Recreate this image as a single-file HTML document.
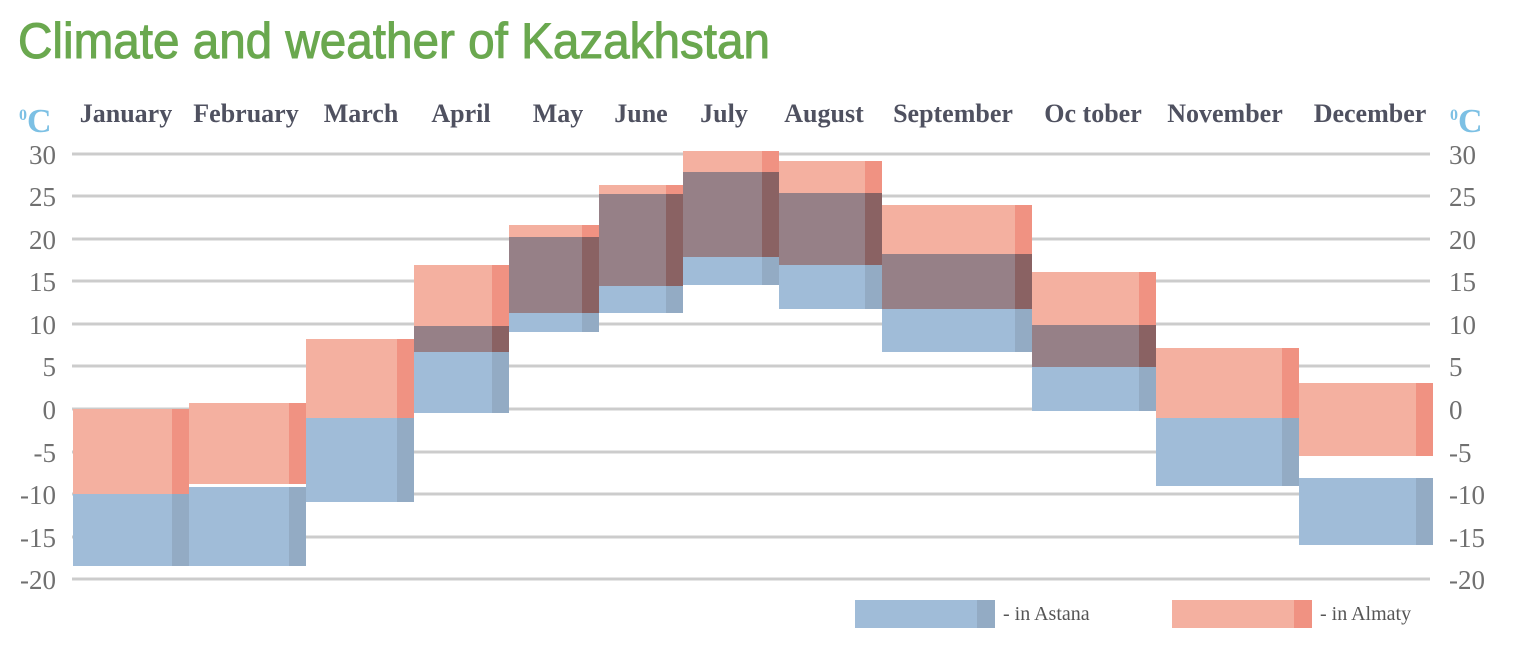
<!DOCTYPE html>
<html><head><meta charset="utf-8"><style>
html,body{margin:0;padding:0;background:#fff;}
svg{display:block}
.m{font-family:"Liberation Serif",serif;font-weight:bold;font-size:26px;fill:#4f5160;text-anchor:middle}
.t{font-family:"Liberation Serif",serif;font-size:27px;fill:#707070}
.g{stroke:#cccccc;stroke-width:3}
.b{fill:#a0bcd8}.bs{fill:#93abc4}.a{fill:#f4b0a0}.as{fill:#f09282}.o{fill:#968087}.os{fill:#8a6263}
</style></head><body>
<svg width="1528" height="648" viewBox="0 0 1528 648">
<text x="18" y="58" font-family="Liberation Sans Narrow, Liberation Sans, sans-serif" font-size="50" fill="#6aa84f" stroke="#6aa84f" stroke-width="1" textLength="752" lengthAdjust="spacingAndGlyphs">Climate and weather of Kazakhstan</text>
<g>
<line class="g" x1="72" x2="1430" y1="154" y2="154"/>
<line class="g" x1="72" x2="1430" y1="196" y2="196"/>
<line class="g" x1="72" x2="1430" y1="239" y2="239"/>
<line class="g" x1="72" x2="1430" y1="281" y2="281"/>
<line class="g" x1="72" x2="1430" y1="324" y2="324"/>
<line class="g" x1="72" x2="1430" y1="366" y2="366"/>
<line class="g" x1="72" x2="1430" y1="409" y2="409"/>
<line class="g" x1="72" x2="1430" y1="452" y2="452"/>
<line class="g" x1="72" x2="1430" y1="494" y2="494"/>
<line class="g" x1="72" x2="1430" y1="537" y2="537"/>
<line class="g" x1="72" x2="1430" y1="579" y2="579"/>
</g>
<g class="t" text-anchor="end">
<text x="56" y="164">30</text><text x="56" y="206">25</text><text x="56" y="249">20</text><text x="56" y="291">15</text><text x="56" y="334">10</text><text x="56" y="376">5</text><text x="56" y="419">0</text><text x="56" y="462">-5</text><text x="56" y="504">-10</text><text x="56" y="547">-15</text><text x="56" y="589">-20</text>
</g>
<g class="t">
<text x="1449" y="164">30</text><text x="1449" y="206">25</text><text x="1449" y="249">20</text><text x="1449" y="291">15</text><text x="1449" y="334">10</text><text x="1449" y="376">5</text><text x="1449" y="419">0</text><text x="1449" y="462">-5</text><text x="1449" y="504">-10</text><text x="1449" y="547">-15</text><text x="1449" y="589">-20</text>
</g>
<text x="19" y="132" font-family="Liberation Serif,serif" font-weight="bold" fill="#7cc0e4"><tspan font-size="16" dy="-12">0</tspan><tspan font-size="34" dy="12">C</tspan></text>
<text x="1450" y="132" font-family="Liberation Serif,serif" font-weight="bold" fill="#7cc0e4"><tspan font-size="16" dy="-12">0</tspan><tspan font-size="34" dy="12">C</tspan></text>
<g class="m">
<text x="126" y="122">January</text><text x="246" y="122">February</text><text x="361" y="122">March</text><text x="461" y="122">April</text><text x="558" y="122">May</text><text x="641" y="122">June</text><text x="724" y="122">July</text><text x="824" y="122">August</text><text x="953" y="122">September</text><text x="1093" y="122">Oc tober</text><text x="1225" y="122">November</text><text x="1370" y="122">December</text>
</g>
<g>
<rect class="b" x="73" y="494" width="99" height="72"/><rect class="bs" x="172" y="494" width="17" height="72"/>
<rect class="a" x="73" y="409" width="99" height="85"/><rect class="as" x="172" y="409" width="17" height="85"/>

<rect class="b" x="189" y="487" width="100" height="79"/><rect class="bs" x="289" y="487" width="17" height="79"/>
<rect class="a" x="189" y="403" width="100" height="81"/><rect class="as" x="289" y="403" width="17" height="81"/>

<rect class="b" x="306" y="418" width="91" height="84"/><rect class="bs" x="397" y="418" width="17" height="84"/>
<rect class="a" x="306" y="339" width="91" height="79"/><rect class="as" x="397" y="339" width="17" height="79"/>

<rect class="b" x="414" y="326" width="78" height="87"/><rect class="bs" x="492" y="326" width="17" height="87"/>
<rect class="a" x="414" y="265" width="78" height="87"/><rect class="as" x="492" y="265" width="17" height="87"/>
<rect class="o" x="414" y="326" width="78" height="26"/><rect class="os" x="492" y="326" width="17" height="26"/>

<rect class="b" x="509" y="237" width="73" height="95"/><rect class="bs" x="582" y="237" width="17" height="95"/>
<rect class="a" x="509" y="225" width="73" height="88"/><rect class="as" x="582" y="225" width="17" height="88"/>
<rect class="o" x="509" y="237" width="73" height="76"/><rect class="os" x="582" y="237" width="17" height="76"/>

<rect class="b" x="599" y="194" width="67" height="119"/><rect class="bs" x="666" y="194" width="17" height="119"/>
<rect class="a" x="599" y="185" width="67" height="101"/><rect class="as" x="666" y="185" width="17" height="101"/>
<rect class="o" x="599" y="194" width="67" height="92"/><rect class="os" x="666" y="194" width="17" height="92"/>

<rect class="b" x="683" y="172" width="79" height="113"/><rect class="bs" x="762" y="172" width="17" height="113"/>
<rect class="a" x="683" y="151" width="79" height="106"/><rect class="as" x="762" y="151" width="17" height="106"/>
<rect class="o" x="683" y="172" width="79" height="85"/><rect class="os" x="762" y="172" width="17" height="85"/>

<rect class="b" x="779" y="193" width="86" height="116"/><rect class="bs" x="865" y="193" width="17" height="116"/>
<rect class="a" x="779" y="161" width="86" height="104"/><rect class="as" x="865" y="161" width="17" height="104"/>
<rect class="o" x="779" y="193" width="86" height="72"/><rect class="os" x="865" y="193" width="17" height="72"/>

<rect class="b" x="882" y="254" width="133" height="98"/><rect class="bs" x="1015" y="254" width="17" height="98"/>
<rect class="a" x="882" y="205" width="133" height="104"/><rect class="as" x="1015" y="205" width="17" height="104"/>
<rect class="o" x="882" y="254" width="133" height="55"/><rect class="os" x="1015" y="254" width="17" height="55"/>

<rect class="b" x="1032" y="325" width="107" height="86"/><rect class="bs" x="1139" y="325" width="17" height="86"/>
<rect class="a" x="1032" y="272" width="107" height="95"/><rect class="as" x="1139" y="272" width="17" height="95"/>
<rect class="o" x="1032" y="325" width="107" height="42"/><rect class="os" x="1139" y="325" width="17" height="42"/>

<rect class="b" x="1156" y="418" width="126" height="68"/><rect class="bs" x="1282" y="418" width="17" height="68"/>
<rect class="a" x="1156" y="348" width="126" height="70"/><rect class="as" x="1282" y="348" width="17" height="70"/>

<rect class="b" x="1299" y="478" width="117" height="67"/><rect class="bs" x="1416" y="478" width="17" height="67"/>
<rect class="a" x="1299" y="383" width="117" height="73"/><rect class="as" x="1416" y="383" width="17" height="73"/>
</g>
<rect class="b" x="855" y="600" width="122" height="28"/><rect class="bs" x="977" y="600" width="18" height="28"/>
<text x="1003" y="620" font-family="Liberation Serif,serif" font-size="20" fill="#555">- in Astana</text>
<rect class="a" x="1172" y="600" width="122" height="28"/><rect class="as" x="1294" y="600" width="18" height="28"/>
<text x="1320" y="620" font-family="Liberation Serif,serif" font-size="20" fill="#555">- in Almaty</text>
</svg>
</body></html>
